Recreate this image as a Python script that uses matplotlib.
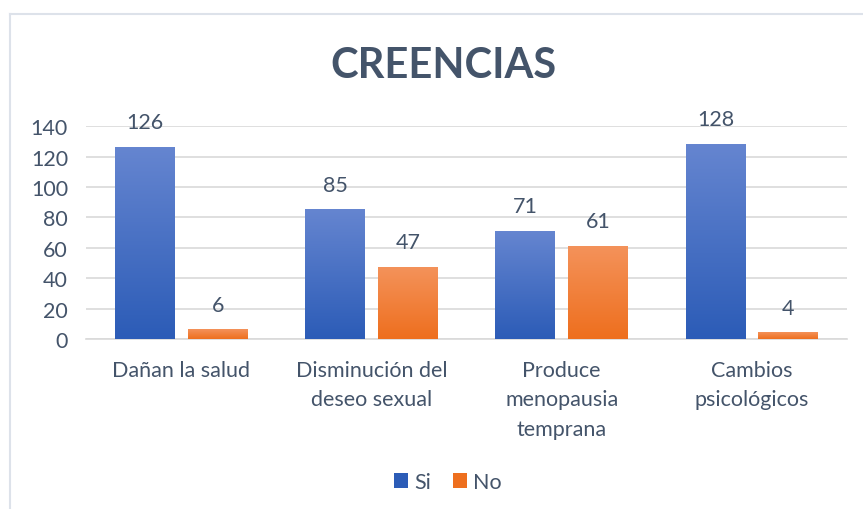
import numpy as np
import matplotlib
matplotlib.use("Agg")
from matplotlib import pyplot as plt
from matplotlib.lines import Line2D
from matplotlib.patches import Patch
from matplotlib.colors import LinearSegmentedColormap

categories = ["Dañan la salud", "Disminución del\ndeseo sexual",
              "Produce\nmenopausia\ntemprana", "Cambios\npsicológicos"]
si = [126, 85, 71, 128]
no = [6, 47, 61, 4]
series_names = ["Si", "No"]
yticks = [0, 20, 40, 60, 80, 100, 120, 140]

text_col = "#44546A"
grid_col = "#D9D9D9"
blue_top, blue_bot = "#6585D0", "#2C5CB7"
orange_top, orange_bot = "#F4925A", "#EE6F1E"

plt.rcParams["font.family"] = ["Lato", "DejaVu Sans"]
fs = 15.5

fig = plt.figure(figsize=(8.63, 5.10), dpi=100)
ax = fig.add_axes([0.0997, 0.3333, 0.8818, 0.4171])

x = np.arange(len(categories))
w = 0.315
off = 0.1915
b1 = ax.bar(x - off, si, w, color=blue_bot, zorder=2)
b2 = ax.bar(x + off, no, w, color=orange_bot, zorder=2)


def gradient_fill(bars, top, bot):
    cmap = LinearSegmentedColormap.from_list("g", [bot, top])
    grad = np.linspace(0, 1, 100).reshape(-1, 1)
    for b in bars:
        x0, h, bw = b.get_x(), b.get_height(), b.get_width()
        ax.imshow(grad, extent=[x0, x0 + bw, 0, h], origin="lower",
                  aspect="auto", cmap=cmap, zorder=3)


gradient_fill(b1, blue_top, blue_bot)
gradient_fill(b2, orange_top, orange_bot)

for bars in (b1, b2):
    for b in bars:
        ax.annotate(str(int(b.get_height())),
                    (b.get_x() + b.get_width() / 2, b.get_height()),
                    xytext=(0, 11), textcoords="offset points",
                    ha="center", va="bottom", fontsize=fs, color=text_col)

ax.set_xlim(-0.5, len(categories) - 0.5)
ax.set_ylim(0, 140)
ax.set_yticks(yticks)
ax.yaxis.grid(True, color=grid_col, linewidth=1.2, zorder=0)
ax.set_axisbelow(True)
ax.set_xticks(x)
ax.set_xticklabels(categories, linespacing=1.6)
ax.tick_params(axis="both", length=0, labelsize=fs, labelcolor=text_col)
ax.tick_params(axis="x", pad=15)
ax.tick_params(axis="y", pad=13)
for s in ["top", "right", "left"]:
    ax.spines[s].set_visible(False)
ax.spines["bottom"].set_color(grid_col)
ax.spines["bottom"].set_linewidth(1.2)

fig.text(443 / 863, 1 - 66 / 510, "CREENCIAS", ha="center", va="center",
         fontsize=30, fontweight="bold", color=text_col)

handles = [Patch(facecolor=blue_bot, edgecolor="none"),
           Patch(facecolor=orange_bot, edgecolor="none")]
fig.legend(handles, series_names, loc="center", ncol=2,
           bbox_to_anchor=(448 / 863, 1 - 483 / 510), frameon=False,
           fontsize=fs, labelcolor=text_col, handlelength=0.65,
           handleheight=0.65, handletextpad=0.3, columnspacing=1.0)

# chart frame (top and left edges visible)
fig.add_artist(Line2D([10 / 863, 1], [1 - 15 / 510] * 2, color="#DDE2EA",
                      linewidth=1.5, transform=fig.transFigure))
fig.add_artist(Line2D([10 / 863] * 2, [0, 1 - 15 / 510], color="#DDE2EA",
                      linewidth=1.5, transform=fig.transFigure))

fig.savefig("out.png", dpi=100)
